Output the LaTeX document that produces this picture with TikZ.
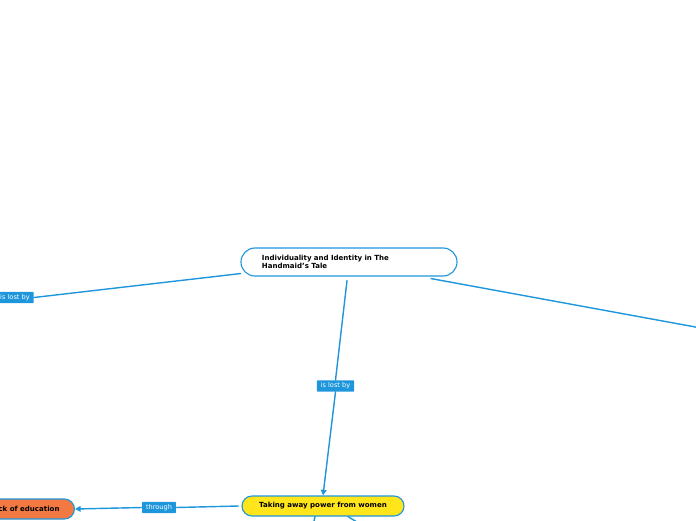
\documentclass[tikz,border=0pt]{standalone}
\usepackage{fontspec}
\setmainfont{DejaVu Sans}
\usetikzlibrary{arrows.meta,calc}
\definecolor{mmblue}{HTML}{1E96DC}
\definecolor{mmyellow}{HTML}{FFE51A}
\definecolor{mmorange}{HTML}{F27A42}
\tikzset{
  link/.style={line width=1pt, draw=mmblue, line cap=round},
  linkarrow/.style={link, -{Triangle[width=4pt,length=4pt]}},
  rootbox/.style={draw=mmblue, fill=white, line width=0.8pt, rounded corners=0.35cm,
    minimum width=5.4cm, minimum height=0.7cm, text width=4.35cm, inner xsep=0.525cm,
    align=left, font=\bfseries\fontsize{5}{5.7}\selectfont},
  topicbox/.style={draw=mmblue, line width=0.8pt, rounded corners=0.25cm,
    minimum height=0.5cm, font=\bfseries\fontsize{5}{6}\selectfont},
  linklabel/.style={fill=mmblue, text=white, rounded corners=0.5pt, inner xsep=2.8pt,
    inner ysep=1.7pt, font=\fontsize{4.7}{5.2}\selectfont},
}
\begin{document}
\begin{tikzpicture}[x=0.025cm, y=-0.025cm]
\useasboundingbox (0,0) rectangle (696,520);
% topics
\node[rootbox] (root) at (349,262) {Individuality and Identity in The\\Handmaid's Tale};
\node[topicbox, fill=mmyellow, minimum width=4.05cm] (power) at (323,506) {Taking away power from women};
\node[topicbox, fill=mmorange, minimum width=2.5cm, anchor=east] (educ) at (75,509) {Lack of education};
% labels
\node[linklabel] (lostleft) at (15,297.5) {is lost by};
\node[linklabel] (lostmid) at (335.5,386) {is lost by};
\node[linklabel] (through) at (159,507.5) {through};
% free ends
\coordinate (offleft) at (-20,302);
\coordinate (offright) at (720,331.5);
\coordinate (offdownA) at (312,530);
\coordinate (offdownB) at (370,530);
% connectors
\draw[link] ($(root.south west)+(0,-3)$) -- (lostleft.east);
\draw[link] (lostleft.west) -- (offleft);
\draw[link] ($(root.south)+(-2,4)$) -- (lostmid.north);
\draw[linkarrow] (lostmid.south) -- (power.north);
\draw[link] ($(root.south)+(82,2)$) -- (offright);
\draw[link] ($(power.west)+(-3,0)$) -- (through.east);
\draw[linkarrow] (through.west) -- (educ.east);
\draw[link] ($(power.south)+(-8,0)$) -- (offdownA);
\draw[link] ($(power.south)+(25,0)$) -- (offdownB);
\end{tikzpicture}
\end{document}
